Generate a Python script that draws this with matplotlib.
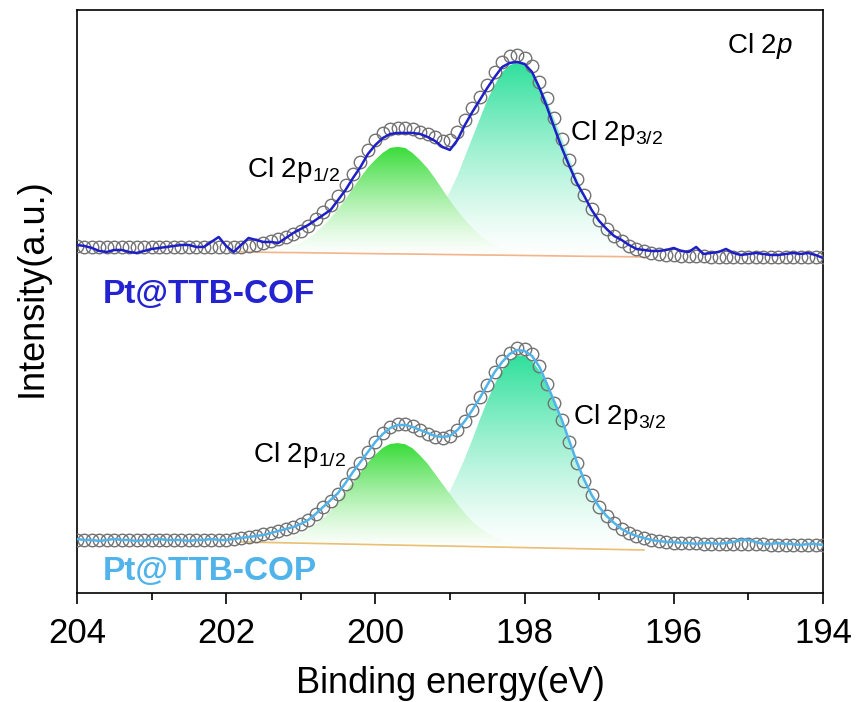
import numpy as np
import matplotlib
matplotlib.use("Agg")
import matplotlib.pyplot as plt
from matplotlib.colors import to_rgb

plt.rcParams['font.family'] = ['Liberation Sans', 'DejaVu Sans']
plt.rcParams['mathtext.fontset'] = 'custom'
plt.rcParams['mathtext.rm'] = 'Liberation Sans'
plt.rcParams['mathtext.it'] = 'Liberation Sans:italic'

# binding energy grid, 204.0 -> 194.0 eV in 0.1 eV steps
energy = np.round(np.arange(2040, 1939, -1) / 10.0, 1)
# grid of the fitted components / background (201.8 -> 196.4 eV)
comp_energy = energy[22:77]

# Pt@TTB-COF (upper spectrum, own offset)
cof_fit = [14, 13, 13, 13, 13, 13, 13, 13, 13, 13,
           13, 13, 13, 13, 13, 13, 13, 13, 13, 13,
           13, 13, 13, 14, 15, 17, 19, 21, 23, 26,
           29, 34, 41, 48, 55, 64, 75, 86, 98, 110,
           120, 127, 131, 132, 132, 131, 128, 126, 123, 119,
           120, 128, 140, 152, 163, 175, 188, 198, 204, 205,
           202, 194, 178, 162, 142, 121, 100, 81, 65, 51,
           40, 31, 24, 19, 14, 11, 9, 7, 6, 5,
           5, 4, 4, 4, 4, 3, 3, 3, 3, 3,
           3, 3, 3, 3, 3, 3, 3, 3, 3, 3, 3]
cof_line = [15, 14, 12, 9, 8, 10, 10, 8, 7, 9,
            11, 12, 13, 14, 15, 15, 13, 13, 18, 23,
            14, 8, 15, 22, 20, 18, 18, 17, 22, 27,
            31, 35, 40, 45, 50, 60, 70, 82, 93, 106,
            115, 122, 126, 127, 127, 127, 126, 123, 119, 113,
            110, 120, 135, 148, 160, 172, 183, 193, 197, 198,
            196, 188, 172, 153, 132, 112, 94, 77, 64, 50,
            39, 31, 24, 20, 15, 11, 10, 9, 9, 10,
            12, 9, 8, 13, 6, 7, 8, 11, 7, 5,
            6, 7, 6, 5, 5, 6, 7, 6, 7, 5, 2]
cof_bg = [8.0, 7.9, 7.8, 7.7, 7.6, 7.5, 7.4, 7.4, 7.3, 7.2,
          7.1, 7.0, 6.9, 6.8, 6.7, 6.6, 6.5, 6.4, 6.3, 6.2,
          6.1, 6.1, 6.0, 5.9, 5.8, 5.7, 5.6, 5.5, 5.4, 5.3,
          5.2, 5.1, 5.0, 4.9, 4.9, 4.8, 4.7, 4.6, 4.5, 4.4,
          4.3, 4.2, 4.1, 4.0, 3.9, 3.8, 3.7, 3.6, 3.6, 3.5,
          3.4, 3.3, 3.2, 3.1, 3.0]
cof_p12 = [0.2, 0.4, 0.7, 1.2, 1.9, 3.1, 4.7, 7.0, 10, 14,
           20, 27, 35, 44, 54, 65, 76, 86, 94, 101,
           106, 107, 106, 101, 94, 86, 76, 65, 54, 44,
           35, 27, 20, 14, 10, 7.0, 4.7, 3.1, 1.9, 1.2,
           0.7, 0.4, 0.2, 0, 0, 0, 0, 0, 0, 0,
           0, 0, 0, 0, 0]
cof_p32 = [0, 0, 0, 0, 0, 0, 0, 0, 0, 0,
           0, 0, 0, 0, 0, 0.2, 0.4, 0.8, 1.3, 2.1,
           3.5, 5.5, 8.5, 13, 18, 26, 36, 48, 63, 79,
           98, 117, 136, 155, 170, 183, 190, 193, 190, 183,
           170, 155, 136, 117, 98, 79, 63, 48, 36, 26,
           18, 13, 8.5, 5.5, 3.5]

# Pt@TTB-COP (lower spectrum)
cop_fit = [20, 20, 20, 20, 20, 20, 20, 20, 20, 20,
           20, 20, 20, 20, 20, 20, 20, 20, 20, 20,
           20, 21, 22, 23, 24, 26, 27, 29, 31, 33,
           36, 40, 46, 53, 59, 66, 76, 87, 97, 108,
           118, 127, 133, 136, 136, 134, 130, 126, 123, 122,
           124, 130, 139, 150, 163, 175, 188, 199, 207, 212,
           211, 206, 194, 176, 157, 140, 118, 97, 79, 65,
           53, 44, 37, 31, 27, 24, 22, 20, 19, 18,
           17, 17, 17, 17, 16, 16, 16, 16, 16, 16,
           16, 16, 16, 15, 15, 15, 15, 15, 15, 15, 15]
cop_line = [21, 20, 20, 19, 20, 21, 20, 20, 19, 20,
            20, 21, 20, 20, 20, 19, 20, 20, 21, 20,
            20, 21, 22, 23, 24, 25, 27, 29, 31, 33,
            36, 40, 46, 53, 60, 67, 77, 88, 98, 108,
            118, 126, 132, 135, 135, 133, 130, 127, 124, 123,
            124, 130, 139, 150, 162, 175, 188, 198, 206, 210,
            209, 204, 193, 176, 158, 140, 119, 98, 80, 65,
            53, 44, 37, 31, 27, 24, 22, 20, 19, 18,
            18, 17, 17, 16, 17, 17, 16, 17, 18, 20,
            20, 18, 16, 16, 17, 16, 16, 15, 16, 16, 15]
cop_bg = [18.0, 17.9, 17.7, 17.6, 17.4, 17.3, 17.1, 17.0, 16.8, 16.7,
          16.5, 16.4, 16.2, 16.1, 15.9, 15.8, 15.6, 15.5, 15.3, 15.2,
          15.0, 14.9, 14.7, 14.6, 14.4, 14.3, 14.1, 14.0, 13.9, 13.7,
          13.6, 13.4, 13.3, 13.1, 13.0, 12.8, 12.7, 12.5, 12.4, 12.2,
          12.1, 11.9, 11.8, 11.6, 11.5, 11.3, 11.2, 11.0, 10.9, 10.7,
          10.6, 10.4, 10.3, 10.1, 10.0]
cop_p12 = [0.2, 0.4, 0.7, 1.1, 1.8, 2.9, 4.5, 6.7, 9.8, 14,
           19, 25, 33, 42, 52, 62, 72, 82, 90, 97,
           101, 102, 101, 97, 90, 82, 72, 62, 52, 42,
           33, 25, 19, 14, 9.8, 6.7, 4.5, 2.9, 1.8, 1.1,
           0.7, 0.4, 0.2, 0, 0, 0, 0, 0, 0, 0,
           0, 0, 0, 0, 0]
cop_p32 = [0, 0, 0, 0, 0, 0, 0, 0, 0, 0,
           0, 0, 0, 0, 0, 0, 0.3, 0.6, 1.0, 1.7,
           2.7, 4.4, 6.9, 10, 15, 22, 31, 42, 55, 71,
           88, 107, 127, 146, 163, 177, 187, 192, 192, 187,
           177, 163, 146, 127, 107, 88, 71, 55, 42, 31,
           22, 15, 10, 6.9, 4.4]

cof_offset = 333
cop_offset = 33

green = '#38dc38'
teal = '#2fe09c'


def gradient_fill(ax, x, lo, hi, color, z):
    # fill under a component: colour at the top fading to white at the base
    poly = ax.fill_between(x, lo, hi, facecolor='none', edgecolor='none')
    path = poly.get_paths()[0]
    n = 256
    t = np.linspace(0, 1, n).reshape(n, 1, 1) ** 1.3
    img = (1 - t) * np.ones(3) + t * np.array(to_rgb(color))
    im = ax.imshow(img, extent=[x.max(), x.min(), lo.min(), hi.max()],
                   origin='lower', aspect='auto', zorder=z, interpolation='bilinear')
    im.set_clip_path(path, transform=ax.transData)


fig = plt.figure(figsize=(8.57, 7.02), dpi=100)
ax = fig.add_axes([0.0898, 0.1553, 0.8705, 0.8305])

spectra = [
    (cof_fit, cof_line, cof_bg, cof_p12, cof_p32, cof_offset, '#1f1fc8', '#f2b48a'),
    (cop_fit, cop_line, cop_bg, cop_p12, cop_p32, cop_offset, '#50b3ea', '#e9bf72'),
]
for fit, line, bg, p12, p32, off, lcol, bgcol in spectra:
    bg = np.array(bg) + off
    gradient_fill(ax, comp_energy, bg, bg + np.array(p32), teal, 1)
    gradient_fill(ax, comp_energy, bg, bg + np.array(p12), green, 2)
    ax.plot(comp_energy, bg, color=bgcol, lw=1.2, zorder=3)
    ax.plot(energy, np.array(fit) + off, 'o', ms=9, mfc='none', mec='#727272',
            mew=1.0, zorder=4)
    ax.plot(energy, np.array(line) + off, color=lcol, lw=1.8, zorder=5)

ax.set_xlim(204, 194)
ax.set_ylim(0, 583)

# peak labels
ax.text(201.72, 416, r'Cl 2p$_{1/2}$', fontsize=20, va='baseline')
ax.text(197.39, 453, r'Cl 2p$_{3/2}$', fontsize=20, va='baseline')
ax.text(201.64, 131, r'Cl 2p$_{1/2}$', fontsize=20, va='baseline')
ax.text(197.35, 169, r'Cl 2p$_{3/2}$', fontsize=20, va='baseline')
ax.text(195.29, 540, r'Cl $\mathit{2p}$', fontsize=20, va='baseline')

ax.text(203.65, 290, 'Pt@TTB-COF', fontsize=24, fontweight='bold',
        color='#2323d2', va='baseline')
ax.text(203.65, 13, 'Pt@TTB-COP', fontsize=24, fontweight='bold',
        color='#50b3ea', va='baseline')

ax.set_xticks([204, 202, 200, 198, 196, 194])
ax.set_xticks([203, 201, 199, 197, 195], minor=True)
ax.set_yticks([])
ax.tick_params(axis='x', which='major', direction='out', length=8, width=1.2,
               labelsize=25, pad=9)
ax.tick_params(axis='x', which='minor', direction='out', length=5, width=1.2)
for sp in ax.spines.values():
    sp.set_linewidth(1.2)

ax.set_xlabel('Binding energy(eV)', fontsize=26, labelpad=12)
ax.set_ylabel('Intensity(a.u.)', fontsize=26)
ax.yaxis.set_label_coords(-0.037, 0.523)

fig.savefig('out.png', dpi=100)
